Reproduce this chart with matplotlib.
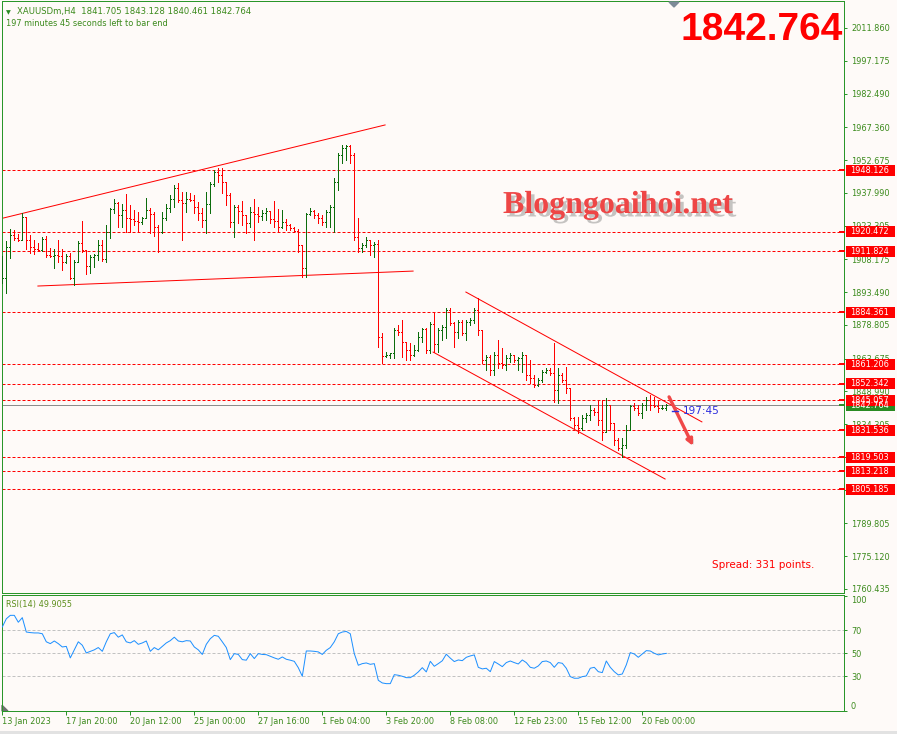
import matplotlib
matplotlib.use("Agg")
import matplotlib.pyplot as plt
import matplotlib.patheffects as pe
from matplotlib.patches import Rectangle, Polygon
from matplotlib.lines import Line2D
import numpy as np

# ── data ────────────────────────────────────────────────────────────────────
opens = [
    1898.0, 1899.8, 1913.7, 1919.1, 1917.7, 1916.8, 1927.2, 1916.8, 1913.7, 1912.8,
    1912.4, 1917.3, 1910.1, 1909.7, 1910.1, 1909.7, 1907.0, 1909.7, 1899.8, 1907.0,
    1915.5, 1912.4, 1905.2, 1909.2, 1910.1, 1914.6, 1908.3, 1920.4, 1930.7, 1933.4,
    1928.0, 1930.3, 1926.7, 1926.3, 1925.4, 1924.9, 1926.7, 1930.3, 1928.5, 1922.7,
    1920.4, 1926.7, 1931.2, 1935.2, 1940.1, 1934.8, 1933.4, 1935.2, 1934.8, 1931.6,
    1928.9, 1925.8, 1933.0, 1941.9, 1947.3, 1945.9, 1942.8, 1937.0, 1924.9, 1931.6,
    1929.8, 1928.0, 1924.5, 1929.4, 1928.5, 1927.6, 1928.9, 1929.8, 1926.3, 1925.4,
    1922.7, 1924.9, 1923.6, 1922.2, 1920.9, 1914.6, 1904.3, 1928.5, 1929.8, 1928.0,
    1926.7, 1924.9, 1929.4, 1931.6, 1942.8, 1954.9, 1958.1, 1959.0, 1954.9, 1918.2,
    1913.3, 1914.6, 1916.8, 1914.6, 1915.1, 1873.4, 1864.8, 1865.3, 1866.2, 1876.5,
    1875.6, 1871.1, 1867.5, 1865.3, 1867.5, 1873.4, 1877.0, 1867.5, 1879.2, 1870.2,
    1876.5, 1877.8, 1885.5, 1879.6, 1875.6, 1880.1, 1875.2, 1880.1, 1881.0, 1885.5,
    1876.5, 1863.1, 1864.4, 1858.6, 1865.3, 1861.7, 1860.8, 1863.9, 1865.3, 1863.1,
    1863.9, 1865.3, 1856.3, 1855.0, 1851.9, 1854.1, 1857.7, 1858.6, 1857.2, 1849.6,
    1856.3, 1854.1, 1850.5, 1837.1, 1833.9, 1832.6, 1837.1, 1838.4, 1840.7, 1839.8,
    1836.2, 1830.8, 1842.9, 1834.8, 1827.2, 1823.6, 1825.0, 1831.7, 1842.4, 1841.5,
    1839.3, 1842.9, 1845.1, 1842.9, 1842.4, 1841.5, 1841.705,
]
highs = [
    1909.7, 1916.4, 1921.8, 1921.3, 1919.5, 1928.9, 1927.2, 1919.1, 1916.8, 1915.5,
    1918.2, 1918.6, 1913.3, 1912.8, 1916.8, 1912.8, 1910.6, 1911.0, 1907.9, 1916.4,
    1925.4, 1912.4, 1910.1, 1910.6, 1916.8, 1916.8, 1923.6, 1931.2, 1935.2, 1933.9,
    1933.0, 1937.5, 1932.5, 1930.3, 1929.4, 1927.2, 1935.7, 1931.2, 1929.4, 1923.6,
    1929.4, 1933.0, 1937.0, 1941.5, 1942.4, 1938.4, 1938.4, 1937.9, 1937.0, 1933.9,
    1931.2, 1938.4, 1942.8, 1948.2, 1949.1, 1949.1, 1942.8, 1937.9, 1932.5, 1932.5,
    1934.3, 1928.0, 1931.6, 1935.2, 1931.6, 1930.3, 1931.2, 1929.8, 1934.3, 1930.7,
    1930.3, 1926.3, 1924.0, 1922.7, 1921.8, 1914.6, 1928.9, 1931.2, 1930.3, 1928.9,
    1928.0, 1930.3, 1932.5, 1944.6, 1955.8, 1959.4, 1959.4, 1959.4, 1955.8, 1926.7,
    1915.5, 1918.2, 1916.8, 1915.9, 1916.8, 1875.2, 1866.6, 1866.2, 1877.4, 1878.7,
    1881.0, 1871.1, 1870.7, 1869.8, 1875.6, 1877.4, 1877.4, 1880.1, 1884.6, 1877.4,
    1878.7, 1886.4, 1886.4, 1880.1, 1881.0, 1881.0, 1881.0, 1881.9, 1886.4, 1890.8,
    1876.5, 1865.3, 1865.3, 1866.6, 1872.0, 1868.4, 1865.3, 1866.2, 1865.3, 1864.4,
    1866.6, 1865.3, 1863.1, 1856.3, 1855.0, 1858.6, 1859.5, 1859.5, 1870.7, 1859.5,
    1857.2, 1859.9, 1850.5, 1837.5, 1837.5, 1838.4, 1839.3, 1842.9, 1841.5, 1845.1,
    1845.1, 1846.0, 1842.9, 1834.8, 1828.1, 1828.1, 1833.9, 1842.9, 1843.8, 1842.9,
    1843.8, 1846.5, 1847.4, 1846.5, 1845.1, 1842.9, 1843.128,
]
lows = [
    1897.6, 1893.1, 1908.8, 1916.8, 1916.4, 1916.8, 1912.8, 1911.0, 1910.6, 1911.9,
    1911.9, 1909.2, 1909.2, 1904.3, 1907.0, 1903.4, 1906.5, 1899.4, 1896.7, 1907.0,
    1911.5, 1901.6, 1902.0, 1904.7, 1907.9, 1907.4, 1907.0, 1917.7, 1928.9, 1922.7,
    1922.7, 1920.4, 1920.4, 1923.6, 1920.4, 1924.0, 1926.7, 1920.0, 1918.6, 1911.5,
    1920.0, 1925.8, 1929.4, 1931.6, 1933.9, 1916.8, 1929.4, 1934.3, 1928.9, 1925.8,
    1922.7, 1920.0, 1928.9, 1941.0, 1942.8, 1937.9, 1932.5, 1922.7, 1918.2, 1924.5,
    1923.6, 1920.0, 1922.7, 1916.8, 1924.9, 1925.8, 1925.8, 1924.5, 1922.7, 1920.4,
    1922.2, 1921.3, 1921.3, 1920.4, 1911.5, 1900.3, 1900.3, 1928.0, 1926.7, 1924.5,
    1923.6, 1922.7, 1922.7, 1920.4, 1939.3, 1951.3, 1952.7, 1951.3, 1916.8, 1911.5,
    1911.5, 1913.7, 1910.1, 1909.2, 1868.9, 1861.7, 1864.4, 1863.9, 1863.9, 1874.3,
    1864.4, 1863.1, 1863.1, 1864.8, 1867.1, 1871.1, 1866.2, 1866.2, 1866.6, 1866.6,
    1872.0, 1872.9, 1878.7, 1868.9, 1872.9, 1874.3, 1872.0, 1878.7, 1879.6, 1874.3,
    1861.7, 1858.6, 1856.3, 1856.3, 1859.5, 1859.5, 1858.6, 1862.2, 1862.2, 1858.6,
    1857.7, 1854.1, 1852.7, 1850.9, 1851.4, 1853.2, 1857.2, 1856.3, 1844.2, 1843.8,
    1853.2, 1848.3, 1836.2, 1832.6, 1830.3, 1831.7, 1835.3, 1836.2, 1838.4, 1833.9,
    1827.2, 1830.8, 1831.7, 1825.0, 1822.7, 1819.6, 1823.6, 1831.7, 1840.7, 1838.4,
    1837.1, 1840.7, 1840.7, 1842.0, 1839.8, 1841.1, 1840.461,
]
closes = [
    1899.8, 1913.7, 1919.1, 1917.7, 1916.8, 1927.2, 1916.8, 1913.7, 1912.8, 1912.4,
    1917.3, 1910.1, 1909.7, 1910.1, 1909.7, 1907.0, 1909.7, 1899.8, 1907.0, 1915.5,
    1912.4, 1905.2, 1909.2, 1910.1, 1914.6, 1908.3, 1920.4, 1930.7, 1933.4, 1928.0,
    1930.3, 1926.7, 1926.3, 1925.4, 1924.9, 1926.7, 1930.3, 1928.5, 1922.7, 1920.4,
    1926.7, 1931.2, 1935.2, 1940.1, 1934.8, 1933.4, 1935.2, 1934.8, 1931.6, 1928.9,
    1925.8, 1933.0, 1941.9, 1947.3, 1945.9, 1942.8, 1937.0, 1924.9, 1931.6, 1929.8,
    1928.0, 1924.5, 1929.4, 1928.5, 1927.6, 1928.9, 1929.8, 1926.3, 1925.4, 1922.7,
    1924.9, 1923.6, 1922.2, 1920.9, 1914.6, 1904.3, 1928.5, 1929.8, 1928.0, 1926.7,
    1924.9, 1929.4, 1931.6, 1942.8, 1954.9, 1958.1, 1959.0, 1954.9, 1918.2, 1913.3,
    1914.6, 1916.8, 1914.6, 1915.1, 1873.4, 1864.8, 1865.3, 1866.2, 1876.5, 1875.6,
    1871.1, 1867.5, 1865.3, 1867.5, 1873.4, 1877.0, 1867.5, 1879.2, 1870.2, 1876.5,
    1877.8, 1885.5, 1879.6, 1875.6, 1880.1, 1875.2, 1880.1, 1881.0, 1885.5, 1876.5,
    1863.1, 1864.4, 1858.6, 1865.3, 1861.7, 1860.8, 1863.9, 1865.3, 1863.1, 1863.9,
    1865.3, 1856.3, 1855.0, 1851.9, 1854.1, 1857.7, 1858.6, 1857.2, 1849.6, 1856.3,
    1854.1, 1850.5, 1837.1, 1833.9, 1832.6, 1837.1, 1838.4, 1840.7, 1839.8, 1836.2,
    1830.8, 1842.9, 1834.8, 1827.2, 1823.6, 1825.0, 1831.7, 1842.4, 1841.5, 1839.3,
    1842.9, 1845.1, 1842.9, 1842.4, 1841.5, 1841.705, 1842.764,
]
rsi = [
    72.9, 80.0, 83.0, 83.0, 77.0, 81.0, 68.5, 68.0, 67.7, 67.7,
    67.0, 60.0, 58.4, 60.7, 58.4, 55.5, 56.0, 46.0, 53.0, 60.0,
    57.0, 50.3, 51.7, 53.0, 55.0, 51.7, 60.0, 67.0, 68.0, 64.0,
    66.0, 60.0, 59.0, 61.0, 57.8, 59.0, 60.7, 51.7, 55.0, 53.0,
    56.0, 59.0, 61.0, 64.0, 60.7, 60.0, 61.0, 60.7, 55.5, 53.0,
    49.0, 57.8, 62.7, 65.6, 64.8, 60.0, 55.0, 44.5, 49.7, 49.0,
    44.5, 44.0, 49.7, 45.4, 49.7, 49.0, 48.8, 47.4, 46.0, 44.8,
    46.8, 44.8, 44.0, 43.0, 37.5, 30.0, 52.0, 52.0, 51.7, 51.2,
    49.0, 52.6, 55.0, 60.0, 67.0, 68.5, 69.0, 67.0, 49.7, 39.6,
    41.0, 41.6, 40.4, 41.0, 26.5, 24.2, 23.6, 23.6, 31.4, 30.9,
    30.0, 28.8, 28.8, 30.9, 33.8, 37.5, 33.8, 43.0, 38.7, 41.0,
    43.5, 49.2, 45.8, 42.8, 44.2, 43.6, 46.5, 47.7, 48.6, 37.8,
    36.4, 37.0, 34.0, 42.8, 40.7, 38.4, 41.9, 43.3, 41.9, 40.7,
    44.2, 41.9, 37.8, 37.0, 39.0, 42.8, 43.3, 41.9, 37.8, 41.9,
    41.3, 37.0, 29.7, 28.3, 28.3, 29.7, 30.3, 37.0, 37.8, 34.0,
    33.2, 43.3, 37.8, 34.0, 31.2, 32.0, 39.9, 50.6, 49.4, 46.5,
    49.4, 52.3, 52.0, 50.0, 48.6, 49.4, 49.9055,
]

levels = [1948.126, 1920.472, 1911.824, 1884.361, 1861.206, 1852.342,
          1845.057, 1831.536, 1819.503, 1813.218, 1805.185]
last_price = 1842.764

price_ticks = [2011.860, 1997.175, 1982.490, 1967.360, 1952.675, 1937.990,
               1923.305, 1908.175, 1893.490, 1878.805, 1863.675, 1848.990,
               1834.305, 1819.620, 1804.935, 1789.805, 1775.120, 1760.435]
# these two sit fully under the red level boxes, so no label is drawn
hidden_ticks = [1819.620, 1804.935]
rsi_ticks = [100, 70, 50, 30, 0]
rsi_levels = [70, 50, 30]

time_bars = [0, 16, 32, 48, 64, 80, 96, 112, 128, 144, 160]
time_labels = ["13 Jan 2023", "17 Jan 20:00", "20 Jan 12:00", "25 Jan 00:00",
               "27 Jan 16:00", "1 Feb 04:00", "3 Feb 20:00", "8 Feb 08:00",
               "12 Feb 23:00", "15 Feb 12:00", "20 Feb 00:00"]

# trend lines as (bar, price) end points
trend_lines = [
    ((-0.6, 1926.3), (95.7, 1968.4)),    # wedge top
    ((8.9, 1896.2), (102.7, 1902.9)),    # wedge bottom
    ((115.9, 1893.5), (174.9, 1835.3)),  # channel top
    ((107.7, 1866.6), (165.7, 1809.7)),  # channel bottom
]
arrow_from = (166.7, 1846.5)
arrow_to = (172.7, 1824.5)

# ── style ───────────────────────────────────────────────────────────────────
W, H = 897, 734
BG = "#fefaf8"
FRAME = "#2a962a"
TXT = "#3b8a1c"
UP = "#0c6c0c"
DOWN = "#ff0000"
PX = 0.72  # one pixel in points at dpi 100
FS = 5.85

plt.rcParams["font.family"] = ["DejaVu Sans"]


def fpos(x, y):
    return x / W, 1 - y / H


fig = plt.figure(figsize=(W / 100, H / 100), dpi=100, facecolor=BG)

# ── main price panel ────────────────────────────────────────────────────────
ax = fig.add_axes([2 / W, 1 - 593 / H, 842 / W, 592 / H], facecolor=BG)
ax.set_xlim(-0.075, 210.43)
ax.set_ylim(1758.6, 2023.96)

for lvl in levels:
    ax.axhline(lvl, color=DOWN, lw=PX, ls=(0, (3, 2)), zorder=1)
ax.axhline(last_price, color="#8c8c8c", lw=PX, zorder=1)

x = np.arange(len(closes))
o = np.array(opens)
c = np.array(closes)
cols = [UP if cc >= oo else DOWN for oo, cc in zip(o, c)]
ax.vlines(x, lows, highs, colors=cols, lw=PX, antialiased=False, zorder=3)
ax.hlines(o, x - 0.3, x, colors=cols, lw=PX, antialiased=False, zorder=3)
ax.hlines(c, x, x + 0.3, colors=cols, lw=PX, antialiased=False, zorder=3)

for (x0, y0), (x1, y1) in trend_lines:
    ax.plot([x0, x1], [y0, y1], color=DOWN, lw=PX, zorder=2)

ann = ax.annotate("", xy=arrow_to, xytext=arrow_from,
                  arrowprops=dict(arrowstyle="-|>", color="#f04848", lw=2.4,
                                  mutation_scale=9, shrinkA=0, shrinkB=0),
                  zorder=4)
ann.arrow_patch.set_path_effects([
    pe.SimplePatchShadow(offset=(1.5, -1.5), shadow_rgbFace="#777777", alpha=0.35),
    pe.Normal()])

ax.set_xticks([])
ax.yaxis.tick_right()
ax.set_yticks(price_ticks)
ax.set_yticklabels(["" if v in hidden_ticks else f"{v:.3f}" for v in price_ticks])
ax.tick_params(axis="y", direction="out", length=2.5, width=PX, color=FRAME,
               labelcolor=TXT, labelsize=FS, pad=2.5)
for s in ax.spines.values():
    s.set_color(FRAME)
    s.set_linewidth(PX)

# ── RSI panel ───────────────────────────────────────────────────────────────
rax = fig.add_axes([2 / W, 1 - 711 / H, 842 / W, 116 / H], facecolor=BG)
rax.set_xlim(-0.075, 210.43)
rax.set_ylim(-0.2, 100.7)
for lv in rsi_levels:
    rax.axhline(lv, color="#c2c2c2", lw=PX, ls=(0, (3, 2)), zorder=1)
rax.plot(x, rsi, color="#1e90ff", lw=PX, zorder=3)
rax.yaxis.tick_right()
rax.set_yticks(rsi_ticks)
rax.set_yticklabels([str(v) for v in rsi_ticks])
rax.tick_params(axis="y", direction="out", length=2.5, width=PX, color=FRAME,
                labelcolor=TXT, labelsize=FS, pad=2.5)
labs = rax.get_yticklabels()
labs[0].set_va("top")
labs[-1].set_va("bottom")
rax.set_xticks(time_bars)
rax.set_xticklabels(time_labels, ha="left")
rax.tick_params(axis="x", direction="out", length=3, width=PX, color=FRAME,
                labelcolor=TXT, labelsize=FS, pad=1.2)
for s in rax.spines.values():
    s.set_color(FRAME)
    s.set_linewidth(PX)
rax.text(0.005, 0.96, "RSI(14) 49.9055", transform=rax.transAxes, color="#5d8f1c",
         fontsize=FS, va="top", ha="left")
rax.add_patch(Polygon([[0, 0], [0, 0.05], [0.007, 0]], closed=True,
                      transform=rax.transAxes, color="#707070", clip_on=False))

# ── price labels on the right axis ──────────────────────────────────────────
def axis_box(price, face):
    ypix = H - ax.transData.transform((0, price))[1]
    fig.add_artist(Rectangle(fpos(846, ypix + 5.5), 49 / W, 11 / H,
                             transform=fig.transFigure, facecolor=face,
                             edgecolor="none", zorder=5))
    fig.add_artist(Line2D([840 / W, 844 / W], [1 - ypix / H] * 2, color=face,
                          lw=1.4, zorder=5))
    fig.text(850 / W, 1 - ypix / H, f"{price:.3f}", color="white", fontsize=FS,
             va="center", ha="left", zorder=6)


axis_box(last_price, "#2a8a22")
for lvl in levels:
    axis_box(lvl, DOWN)

# ── texts ───────────────────────────────────────────────────────────────────
fig.text(*fpos(6, 14), "\u25bc", color="#2a8a22", fontsize=4.5, va="baseline")
fig.text(*fpos(17, 14), "XAUUSDm,H4  1841.705 1843.128 1840.461 1842.764",
         color=TXT, fontsize=6.1, va="baseline")
fig.text(*fpos(6, 26), "197 minutes 45 seconds left to bar end",
         color=TXT, fontsize=FS, va="baseline")

fig.text(*fpos(843, 40), "1842.764", color="#ff0000", fontsize=28,
         fontfamily="Liberation Sans", fontweight="bold", ha="right", va="baseline")

fig.text(*fpos(503, 213), "Blogngoaihoi.net", color="#ee4646", fontsize=23,
         fontfamily="Liberation Serif", fontweight="bold", ha="left", va="baseline",
         path_effects=[pe.withSimplePatchShadow(offset=(2.5, -2.5),
                                                shadow_rgbFace="#808080", alpha=0.45)])

fig.text(*fpos(712, 565), "Spread: 331 points.", color="#ff0000", fontsize=7.5,
         ha="left", va="center")
fig.text(*fpos(683, 411), "197:45", color="#2b2bdd", fontsize=7.5,
         ha="left", va="center")
fig.add_artist(Line2D([672 / W, 678 / W], [1 - 411 / H] * 2, color="#2b2bdd", lw=1))
fig.add_artist(Polygon([fpos(669, 2), fpos(679, 2), fpos(674, 7)], closed=True,
                       transform=fig.transFigure, color="#7d8a98", zorder=5))
fig.add_artist(Rectangle((0, 0), 1, 3 / H, transform=fig.transFigure,
                         facecolor="#e2e2e2", edgecolor="none"))

fig.savefig("out.png", dpi=100, facecolor=BG)
